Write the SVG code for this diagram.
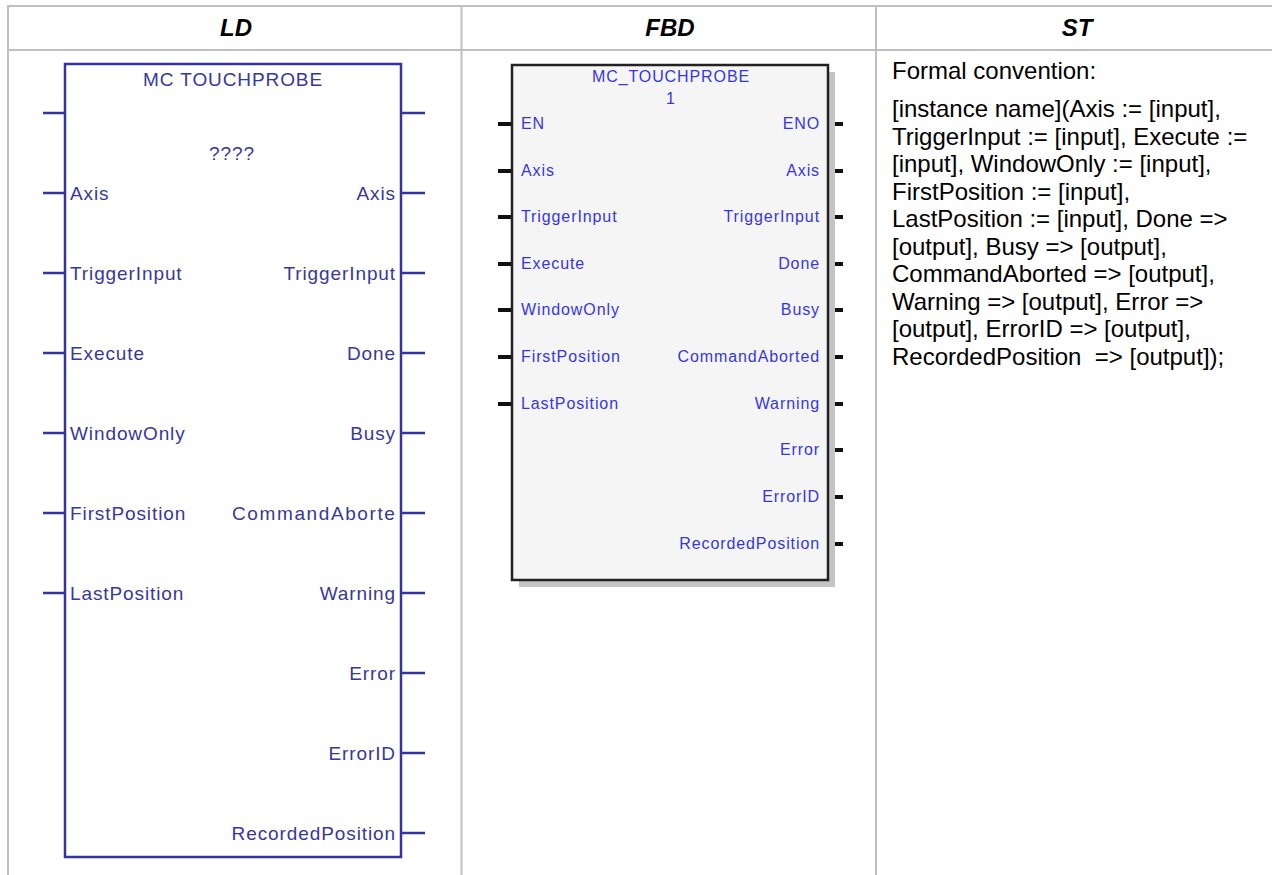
<svg xmlns="http://www.w3.org/2000/svg" width="1272" height="875" viewBox="0 0 1272 875">
<defs>
<style>
.grid{stroke:#c0c0c0;stroke-width:2;fill:none}
.hdr{font-family:"Liberation Sans",Arial,sans-serif;font-size:24px;font-weight:bold;font-style:italic;fill:#000;text-anchor:middle}
.ldbox{fill:#fff;stroke:#34349c;stroke-width:2.5}
.ldpin{stroke:#34349c;stroke-width:2.5}
.ldt{font-family:"Liberation Sans",Arial,sans-serif;font-size:19px;letter-spacing:0.9px;fill:#38389a}
.ldr{text-anchor:end}
.fbbox{fill:#f5f5f5;stroke:#222;stroke-width:2.5}
.fbsh{fill:#c4c4c4}
.fbpin{stroke:#111;stroke-width:4}
.fbt{font-family:"Liberation Sans",Arial,sans-serif;font-size:16px;letter-spacing:0.9px;fill:#3535e8}
.fbr{text-anchor:end}
.st{font-family:"Liberation Sans",Arial,sans-serif;font-size:24px;fill:#000}
</style>
<clipPath id="ldclip"><rect x="66" y="65" width="331" height="791"/></clipPath>
</defs>
<rect x="0" y="0" width="1272" height="875" fill="#fff"/>
<g id="table">
<line class="grid" x1="8" y1="6" x2="1272" y2="6"/>
<line class="grid" x1="8" y1="50" x2="1272" y2="50"/>
<line class="grid" x1="8" y1="5" x2="8" y2="875"/>
<line class="grid" x1="461.5" y1="5" x2="461.5" y2="875"/>
<line class="grid" x1="876" y1="5" x2="876" y2="875"/>
<text class="hdr" x="236" y="36">LD</text>
<text class="hdr" x="670" y="36">FBD</text>
<text class="hdr" x="1077" y="36">ST</text>
</g>
<g id="connectors">
<g class="ldpin">
<line x1="43" y1="113" x2="65" y2="113"/>
<line x1="43" y1="193" x2="65" y2="193"/>
<line x1="43" y1="273" x2="65" y2="273"/>
<line x1="43" y1="353" x2="65" y2="353"/>
<line x1="43" y1="433" x2="65" y2="433"/>
<line x1="43" y1="513" x2="65" y2="513"/>
<line x1="43" y1="593" x2="65" y2="593"/>
<line x1="401" y1="113" x2="425" y2="113"/>
<line x1="401" y1="193" x2="425" y2="193"/>
<line x1="401" y1="273" x2="425" y2="273"/>
<line x1="401" y1="353" x2="425" y2="353"/>
<line x1="401" y1="433" x2="425" y2="433"/>
<line x1="401" y1="513" x2="425" y2="513"/>
<line x1="401" y1="593" x2="425" y2="593"/>
<line x1="401" y1="673" x2="425" y2="673"/>
<line x1="401" y1="753" x2="425" y2="753"/>
<line x1="401" y1="833" x2="425" y2="833"/>
</g>
<g class="fbpin">
<line x1="498" y1="124" x2="512" y2="124"/>
<line x1="498" y1="171" x2="512" y2="171"/>
<line x1="498" y1="217" x2="512" y2="217"/>
<line x1="498" y1="264" x2="512" y2="264"/>
<line x1="498" y1="310" x2="512" y2="310"/>
<line x1="498" y1="357" x2="512" y2="357"/>
<line x1="498" y1="404" x2="512" y2="404"/>
<line x1="828" y1="124" x2="843" y2="124"/>
<line x1="828" y1="171" x2="843" y2="171"/>
<line x1="828" y1="217" x2="843" y2="217"/>
<line x1="828" y1="264" x2="843" y2="264"/>
<line x1="828" y1="310" x2="843" y2="310"/>
<line x1="828" y1="357" x2="843" y2="357"/>
<line x1="828" y1="404" x2="843" y2="404"/>
<line x1="828" y1="450" x2="843" y2="450"/>
<line x1="828" y1="497" x2="843" y2="497"/>
<line x1="828" y1="544" x2="843" y2="544"/>
</g>
</g>
<g id="ld-block">
<rect class="ldbox" x="65" y="64" width="336" height="793"/>
<text class="ldt" x="233" y="86" text-anchor="middle" textLength="180" letter-spacing="0">MC TOUCHPROBE</text>
<text class="ldt" x="232" y="160" text-anchor="middle">????</text>
<g clip-path="url(#ldclip)">
<text class="ldt" x="70" y="200">Axis</text>
<text class="ldt" x="70" y="280">TriggerInput</text>
<text class="ldt" x="70" y="360">Execute</text>
<text class="ldt" x="70" y="440">WindowOnly</text>
<text class="ldt" x="70" y="520">FirstPosition</text>
<text class="ldt" x="70" y="600">LastPosition</text>
<text class="ldt ldr" x="396" y="200">Axis</text>
<text class="ldt ldr" x="396" y="280">TriggerInput</text>
<text class="ldt ldr" x="396" y="360">Done</text>
<text class="ldt ldr" x="396" y="440">Busy</text>
<text class="ldt" x="232" y="520" textLength="176" lengthAdjust="spacing">CommandAborted</text>
<text class="ldt ldr" x="396" y="600">Warning</text>
<text class="ldt ldr" x="396" y="680">Error</text>
<text class="ldt ldr" x="396" y="760">ErrorID</text>
<text class="ldt ldr" x="396" y="840">RecordedPosition</text>
</g>
</g>
<g id="fbd-block">
<rect class="fbsh" x="519" y="72" width="316" height="515"/>
<rect class="fbbox" x="512" y="65" width="316" height="515"/>
<text class="fbt" x="671" y="82" text-anchor="middle" letter-spacing="0.3">MC_TOUCHPROBE</text>
<text class="fbt" x="671" y="104" text-anchor="middle">1</text>
<text class="fbt" x="521" y="129">EN</text>
<text class="fbt" x="521" y="176">Axis</text>
<text class="fbt" x="521" y="222">TriggerInput</text>
<text class="fbt" x="521" y="269">Execute</text>
<text class="fbt" x="521" y="315">WindowOnly</text>
<text class="fbt" x="521" y="362">FirstPosition</text>
<text class="fbt" x="521" y="409">LastPosition</text>
<text class="fbt fbr" x="820" y="129">ENO</text>
<text class="fbt fbr" x="820" y="176">Axis</text>
<text class="fbt fbr" x="820" y="222">TriggerInput</text>
<text class="fbt fbr" x="820" y="269">Done</text>
<text class="fbt fbr" x="820" y="315">Busy</text>
<text class="fbt fbr" x="820" y="362">CommandAborted</text>
<text class="fbt fbr" x="820" y="409">Warning</text>
<text class="fbt fbr" x="820" y="455">Error</text>
<text class="fbt fbr" x="820" y="502">ErrorID</text>
<text class="fbt fbr" x="820" y="549">RecordedPosition</text>
</g>
<g id="st-text">
<text class="st" x="892" y="79">Formal convention:</text>
<text class="st" x="892" y="117">[instance name](Axis := [input],</text>
<text class="st" x="892" y="144.5">TriggerInput := [input], Execute :=</text>
<text class="st" x="892" y="172">[input], WindowOnly := [input],</text>
<text class="st" x="892" y="199.5">FirstPosition := [input],</text>
<text class="st" x="892" y="227">LastPosition := [input], Done =&gt;</text>
<text class="st" x="892" y="254.5">[output], Busy =&gt; [output],</text>
<text class="st" x="892" y="282">CommandAborted =&gt; [output],</text>
<text class="st" x="892" y="309.5">Warning =&gt; [output], Error =&gt;</text>
<text class="st" x="892" y="337">[output], ErrorID =&gt; [output],</text>
<text class="st" x="892" y="364.5" xml:space="preserve">RecordedPosition  =&gt; [output]);</text>
</g>
</svg>
